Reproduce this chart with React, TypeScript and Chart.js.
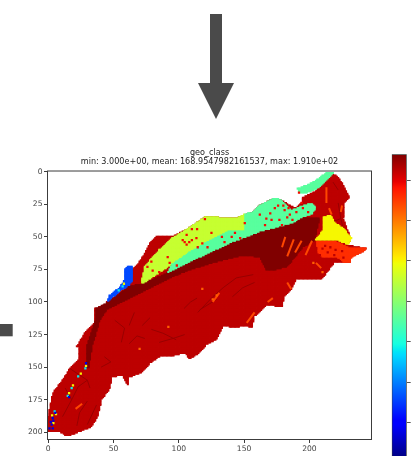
import React, { useEffect, useRef } from "react";
import { Chart, registerables } from "chart.js";

Chart.register(...registerables);

type P = [number, number];

const titleLines = ["geo_class", "min: 3.000e+00, mean: 168.9547982161537, max: 1.910e+02"];
const xTicks = [0, 50, 100, 150, 200];
const yTicks = [0, 25, 50, 75, 100, 125, 150, 175, 200];
const colorbarTicks = [25, 50, 75, 100, 125, 150, 175];
const vMin = 3;
const vMax = 191;
const gridCols = 248;
const gridRows = 206;

const mainValue = 181;
const mainZone: P[] = [[0, 188], [3.4, 170], [11, 160], [16.5, 151], [24, 144], [24, 135], [22, 134], [28, 124], [36, 115], [36, 105], [45, 102], [45, 100], [62, 87], [64, 82], [65, 75], [70, 69], [72, 66], [78, 55], [83, 50], [95, 50], [108, 43], [120, 35], [131, 35], [143, 36], [157, 31], [162, 26], [173, 20], [179, 22], [189, 28], [194, 24], [195, 20], [199, 18], [206, 14], [208, 10], [216, 1], [221, 3], [226, 10], [229, 16.5], [231, 20], [227, 24], [226, 36], [232, 52], [229, 56], [244, 59], [240, 62], [232, 65], [231, 70], [219, 70], [210, 82], [203, 83], [190, 83], [185, 92], [181, 96], [179, 104], [168, 102], [158, 111], [156, 120], [151, 118], [143, 120], [134, 118], [129, 129], [121, 133], [116, 139], [108, 144], [105, 139], [93, 142], [87, 141], [78, 147], [72, 154], [62, 158], [61, 164], [57, 156], [49, 158], [47, 167], [41, 175], [38, 188], [33, 196], [18, 202], [14, 203], [10, 200], [1, 200], [0, 200]];

const bandValue = 191;
const bandZone: P[] = [[36, 115], [37, 105], [45, 101], [62, 88], [72, 86], [91, 78], [116, 65.5], [141, 54], [162, 46], [175, 42.5], [187, 39.5], [193, 35.6], [208, 35], [204, 52.5], [195, 58], [183, 73], [172, 75.5], [167, 75.5], [162, 65.5], [149, 64], [126, 70], [108, 75.5], [93, 81.5], [65, 96], [45, 106], [39.5, 114], [34, 133], [31, 150.5], [29, 150.5], [30, 133]];

const limeValue = 114;
const limeZone: P[] = [[72, 86], [72, 81.5], [74, 73], [78, 68], [85, 60], [91, 55], [95, 51], [108, 43], [120, 35], [131, 35], [143, 36], [150.5, 32.5], [151, 46], [137.5, 46], [120, 55], [108, 62], [95, 71], [81.5, 80]];

const aquaValue = 89;
const aquaZone: P[] = [[91, 78], [95, 71], [108, 62], [120, 55], [137.5, 46], [151, 46], [150.5, 32.5], [157, 31], [162, 26], [173.5, 20], [179, 22], [186.5, 29.5], [192.5, 27], [202, 24], [205, 28], [202, 32.5], [193, 35.6], [187, 39.5], [175, 42.5], [162, 46], [141, 54], [116, 65.5]];
const aquaStrip: P[] = [[191, 13], [203, 8], [214, 0], [219, 0.5], [208, 12], [199, 16], [193, 17]];

const yellowValue = 125;
const yellowZone: P[] = [[210.5, 35], [216, 33], [219.5, 39], [225.5, 43], [232.5, 51], [229.5, 56], [221, 52.5], [210.5, 52.5], [205, 52], [210.5, 45]];

const orangeValue = 165;
const orangeZone: P[] = [[205.5, 53], [221, 54], [229.5, 58], [244, 59], [240, 62], [232.5, 65.5], [231, 70], [227, 70], [222, 66], [210.5, 65.5], [206.5, 61.5]];

const blueValue = 40;
const blueZone: P[] = [[58.5, 75.5], [61, 73], [64.7, 73], [64.7, 83], [62.4, 87], [56, 91], [48.6, 97], [45, 100], [47, 95], [55, 88.5], [58, 84], [58.5, 80]];

const channelValue = 187;
const channels: P[][] = [
  [[114.5, 108], [126, 96], [134, 89], [144, 81.5], [157, 79]],
  [[79, 121], [88, 124], [98, 129]],
  [[51, 114], [58.5, 120], [56, 131]],
  [[43, 142], [48, 146], [40.5, 150]],
  [[30, 160], [23, 165], [18, 175]],
  [[16.5, 151], [30, 160], [32, 166]],
  [[30, 176], [24, 185], [22, 195]],
  [[37, 179], [30, 194]],
  [[13, 166], [18, 175], [11, 188]],
  [[85, 131], [95.5, 128], [104.5, 125]],
  [[116, 106], [129, 98]],
  [[219, 38], [224, 36], [226, 44]],
  [[141, 96], [149, 89], [158, 85]],
  [[66, 108], [62, 118]],
  [[72, 118], [78, 112]],
  [[222, 24], [224, 36]],
  [[62, 132], [68, 126], [74, 128]],
  [[104, 105], [109, 100], [114, 97]],
  [[218, 8], [222, 14]],
];

const streakValue = 160;
const streaks: P[][] = [
  [[181.5, 50], [179, 58]],
  [[188, 52], [183, 65]],
  [[194, 53], [189, 62]],
  [[202, 53], [197, 64]],
  [[213, 12], [213, 24]],
  [[215, 28], [217, 33]],
  [[225, 26], [224, 31]],
  [[21, 182], [26, 178]],
  [[152, 116], [158, 108]],
  [[183, 85], [186, 90]],
  [[205, 70], [209, 74]],
  [[168, 100], [172, 97]],
  [[126, 100], [131, 93]],
];

const redSpeckValue = 172;
const redSpecks: P[] = [[79, 69], [91.5, 65.5], [93, 70], [98.5, 72], [103, 52.5], [106, 56], [110, 52.5], [114.5, 58], [118, 55], [122, 58], [114, 44], [110, 44], [76, 73], [80, 76], [85, 77], [120, 36.5], [106, 48.5], [125, 47], [104.5, 54], [108, 54], [113.5, 51], [133, 50], [135, 54], [140.5, 50], [143, 47], [147, 51], [150.5, 39.5], [162, 33], [167, 36], [170, 32], [173.5, 28], [176, 26], [177, 37], [171, 37], [166, 41], [181, 29.5], [183, 35], [179, 41], [180, 26], [184, 28], [185, 33], [190, 31], [195, 28], [199, 31], [194, 24], [187, 37], [192, 16]];

const orangeSpeckValue = 155;
const orangeSpecks: P[] = [[70, 136], [129, 95], [126, 98], [203, 70], [210, 77], [118, 90], [92, 119]];

const mainSpeckValue = 181;
const mainSpecks: P[] = [[212, 57], [216, 58], [220, 60], [214, 62], [225, 61], [210, 59], [219, 64], [226, 66], [208, 64]];

const yellowSpeckValue = 125;
const yellowSpecks: P[] = [[29, 149], [25, 155], [19, 164], [16, 170], [6, 186], [3, 187], [4, 193], [58, 86]];

const cyanSpeckValue = 70;
const cyanSpecks: P[] = [[28.5, 151], [23, 157], [18, 166], [15, 172], [5, 184], [57, 88], [54, 91]];

const blueSpeckValue = 18;
const blueSpecks: P[] = [[29, 147], [5.5, 185], [3.5, 189], [4, 191], [2.7, 194], [1, 197], [3.5, 197], [2, 192], [16, 173]];

const jetR: P[] = [[0, 0], [0.35, 0], [0.66, 1], [0.89, 1], [1, 0.5]];
const jetG: P[] = [[0, 0], [0.125, 0], [0.375, 1], [0.64, 1], [0.91, 0], [1, 0]];
const jetB: P[] = [[0, 0.5], [0.11, 1], [0.34, 1], [0.65, 0], [1, 0]];

function lerpTable(table: P[], t: number): number {
  for (let i = 1; i < table.length; i++) {
    if (t <= table[i][0]) {
      const [a, av] = table[i - 1];
      const [b, bv] = table[i];
      return av + ((t - a) / (b - a)) * (bv - av);
    }
  }
  return table[table.length - 1][1];
}

function jetAt(t: number): string {
  const c = (table: P[]) => Math.round(lerpTable(table, t) * 255);
  return `rgb(${c(jetR)},${c(jetG)},${c(jetB)})`;
}

function jet(value: number): string {
  return jetAt((value - vMin) / (vMax - vMin));
}

const toPts = (ps: P[]) => ps.map(([x, y]) => ({ x, y }));

function inside(poly: P[], x: number, y: number): boolean {
  let hit = false;
  for (let i = 0, j = poly.length - 1; i < poly.length; j = i++) {
    const [xi, yi] = poly[i];
    const [xj, yj] = poly[j];
    if (yi > y !== yj > y && x < ((xj - xi) * (y - yi)) / (yj - yi) + xi) hit = !hit;
  }
  return hit;
}

function zoneCells(poly: P[]): P[] {
  const cells: P[] = [];
  for (let y = 0; y < gridRows; y++) {
    for (let x = 0; x < gridCols; x++) {
      if (inside(poly, x, y)) cells.push([x, y]);
    }
  }
  return cells;
}

function cells(points: P[], value: number, radius: number) {
  return {
    data: toPts(points),
    showLine: false,
    pointStyle: "rect" as const,
    pointRadius: radius,
    pointBorderWidth: 0,
    pointBackgroundColor: jet(value),
  };
}

const zone = (poly: P[], value: number) => cells(zoneCells(poly), value, 1.5);
const specks = (points: P[], value: number) => cells(points, value, 1.6);

function stroke(points: P[], value: number, width: number) {
  return {
    data: toPts(points),
    showLine: true,
    fill: false,
    borderColor: jet(value),
    borderWidth: width,
    pointRadius: 0,
    tension: 0,
  };
}

const ARROW = "#4a4a4a";
const axesColor = "#3c3c3c";
const tickFont = { family: "'DejaVu Sans'", size: 7.6 };

const framePlugin = {
  id: "frame",
  beforeDraw(chart: Chart) {
    const ctx = chart.ctx;
    ctx.save();
    ctx.fillStyle = ARROW;
    ctx.fillRect(210, 14, 12, 69);
    ctx.beginPath();
    ctx.moveTo(198, 83);
    ctx.lineTo(234, 83);
    ctx.lineTo(216, 119);
    ctx.closePath();
    ctx.fill();
    ctx.fillRect(0, 324, 12.7, 12.3);
    ctx.restore();
  },
  afterDraw(chart: Chart) {
    const { ctx, chartArea: a } = chart;
    ctx.save();
    ctx.strokeStyle = axesColor;
    ctx.lineWidth = 1;
    ctx.strokeRect(a.left, a.top, a.right - a.left, a.bottom - a.top);
    ctx.restore();
  },
};

export default function App() {
  const mapRef = useRef<HTMLCanvasElement>(null);
  const barRef = useRef<HTMLCanvasElement>(null);

  useEffect(() => {
    const layers = [
      zone(mainZone, mainValue),
      ...channels.map((c) => stroke(c, channelValue, 1)),
      zone(bandZone, bandValue),
      zone(limeZone, limeValue),
      zone(aquaZone, aquaValue),
      zone(aquaStrip, aquaValue),
      zone(orangeZone, orangeValue),
      zone(yellowZone, yellowValue),
      zone(blueZone, blueValue),
      ...streaks.map((c) => stroke(c, streakValue, 2)),
      specks(redSpecks, redSpeckValue),
      specks(orangeSpecks, orangeSpeckValue),
      specks(mainSpecks, mainSpeckValue),
      specks(yellowSpecks, yellowSpeckValue),
      specks(cyanSpecks, cyanSpeckValue),
      specks(blueSpecks, blueSpeckValue),
    ];
    const map = new Chart(mapRef.current!, {
      type: "scatter",
      data: {
        // Chart.js paints the first dataset last, so the stack is reversed.
        datasets: layers.reverse() as any,
      },
      options: {
        responsive: false,
        animation: false,
        layout: { padding: { left: 0, right: 39.5, top: 148.5, bottom: 0 } },
        plugins: {
          legend: { display: false },
          tooltip: { enabled: false },
          title: {
            display: true,
            fullSize: false,
            text: titleLines,
            color: "#222",
            font: { family: "'DejaVu Sans'", size: 8.1, weight: "normal", lineHeight: 1.05 },
            padding: { top: 0.5, bottom: 5 },
          },
        },
        scales: {
          x: {
            type: "linear",
            min: -0.5,
            max: 247.5,
            afterBuildTicks: (s: any) => { s.ticks = xTicks.map((value) => ({ value })); },
            afterFit: (s: any) => { s.height = 16.5; },
            grid: { drawOnChartArea: false, drawTicks: true, tickLength: 3.5, tickColor: axesColor },
            border: { color: axesColor, width: 1 },
            ticks: { font: tickFont, color: "#444", padding: 1.5, maxRotation: 0, autoSkip: false },
          },
          y: {
            type: "linear",
            reverse: true,
            min: -0.5,
            max: 205.5,
            afterBuildTicks: (s: any) => { s.ticks = yTicks.map((value) => ({ value })); },
            afterFit: (s: any) => { s.width = 47.5; },
            grid: { drawOnChartArea: false, drawTicks: true, tickLength: 3.5, tickColor: axesColor },
            border: { color: axesColor, width: 1 },
            ticks: { font: tickFont, color: "#444", padding: 1.5, autoSkip: false },
          },
        },
      },
      plugins: [framePlugin],
    } as any);

    const bar = new Chart(barRef.current!, {
      type: "bar",
      data: {
        labels: ["geo_class"],
        datasets: [
          {
            data: [[vMin, vMax]],
            barPercentage: 1,
            categoryPercentage: 1,
            borderWidth: 1,
            borderColor: "#3c3c3c",
            borderSkipped: false,
            backgroundColor: (ctx: any) => {
              const a = ctx.chart.chartArea;
              if (!a) return "#000";
              const g = ctx.chart.ctx.createLinearGradient(0, a.bottom, 0, a.top);
              const stops = [...jetR, ...jetG, ...jetB].map((p) => p[0]);
              stops.forEach((t) => g.addColorStop(t, jetAt(t)));
              return g;
            },
          },
        ],
      } as any,
      options: {
        responsive: false,
        animation: false,
        layout: { padding: { left: 11.7, right: 0, top: 14.3, bottom: 12 } },
        plugins: { legend: { display: false }, tooltip: { enabled: false } },
        scales: {
          x: { display: false },
          y: {
            position: "right",
            min: vMin,
            max: vMax,
            afterBuildTicks: (s: any) => { s.ticks = colorbarTicks.map((value) => ({ value })); },
            afterFit: (s: any) => { s.width = 33.3; },
            grid: { drawOnChartArea: false, drawTicks: true, tickLength: 4, tickColor: "#555" },
            border: { display: false },
            ticks: { font: tickFont, color: "#444", padding: 3, autoSkip: false },
          },
        },
      },
    } as any);

    return () => {
      map.destroy();
      bar.destroy();
    };
  }, []);

  return (
    <div style={{ position: "fixed", left: 0, top: 0, width: 411, height: 456, overflow: "hidden", background: "#fff", filter: "blur(0.45px)" }}>
      <canvas ref={mapRef} width={411} height={456} style={{ position: "absolute", left: 0, top: 0 }} />
      <canvas ref={barRef} width={60} height={330} style={{ position: "absolute", left: 380, top: 140 }} />
    </div>
  );
}
